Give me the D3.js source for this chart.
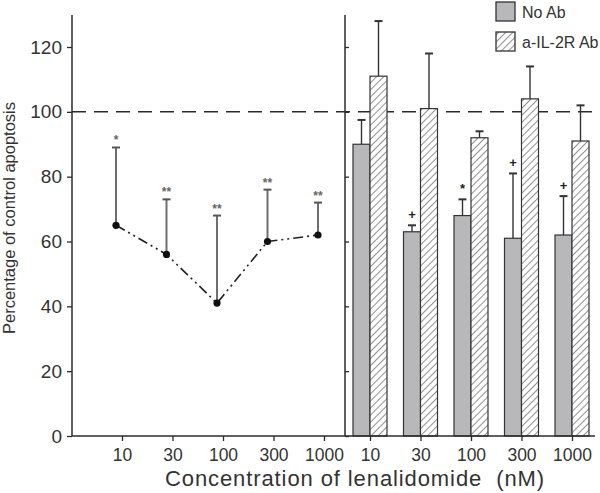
<!DOCTYPE html>
<html><head><meta charset="utf-8">
<script src="https://cdn.jsdelivr.net/npm/d3@7"></script>
<style>body{margin:0;background:#fff}svg{display:block}text{font-family:"Liberation Sans",Arial,sans-serif}</style>
</head><body>
<svg id="c" width="600" height="493"></svg>
<script>
const concentrations = ["10","30","100","300","1000"];
// Left panel: line with upper error bars
const lineMeans = [65, 56, 41, 60, 62];
const lineErrTop = [89, 73, 68, 76, 72];
const lineMarks = ["*", "**", "**", "**", "**"];
// Right panel: bars
const noAbMeans = [90, 63, 68, 61, 62];
const noAbErrTop = [97.5, 65, 73, 81, 74];
const noAbMarks = ["", "+", "*", "+", "+"];
const ab2Means = [111, 101, 92, 104, 91];
const ab2ErrTop = [128, 118, 94, 114, 102];
const yTicks = [0, 20, 40, 60, 80, 100, 120];
const seriesNames = ["No Ab", "a-IL-2R Ab"];

const svg = d3.select("#c");
const ink = "#2b2b2b";
const y = d3.scaleLinear().domain([0, 120]).range([436, 47]);
const xL = d3.scalePoint().domain(concentrations).range([122, 324]);
const xR = d3.scalePoint().domain(concentrations).range([370, 572]);
const barW = 17, ptOff = -6;

const defs = svg.append("defs");
const pat = defs.append("pattern").attr("id", "hatch").attr("patternUnits", "userSpaceOnUse")
  .attr("width", 5).attr("height", 5).attr("patternTransform", "rotate(45)");
pat.append("rect").attr("width", 5).attr("height", 5).attr("fill", "#fff");
pat.append("line").attr("x1", 0).attr("y1", 0).attr("x2", 0).attr("y2", 5).attr("stroke", "#333").attr("stroke-width", 1.1);

// dashed reference line at 100
svg.append("line").attr("x1", 72).attr("x2", 600).attr("y1", y(100)).attr("y2", y(100))
  .attr("stroke", ink).attr("stroke-width", 1.5).attr("stroke-dasharray", "14,8");

// bars
const gb = svg.append("g");
concentrations.forEach((c, i) => {
  const cx = xR(c);
  [[cx - barW / 2, noAbMeans[i], noAbErrTop[i]], [cx + barW / 2, ab2Means[i], ab2ErrTop[i]]].forEach(([ex, m, t]) => {
    gb.append("line").attr("x1", ex).attr("x2", ex).attr("y1", y(m)).attr("y2", y(t)).attr("stroke", "#333").attr("stroke-width", 1.4);
    gb.append("line").attr("x1", ex - 4).attr("x2", ex + 4).attr("y1", y(t)).attr("y2", y(t)).attr("stroke", "#333").attr("stroke-width", 2);
  });
  gb.append("rect").attr("x", cx - barW).attr("y", y(noAbMeans[i])).attr("width", barW).attr("height", y(0) - y(noAbMeans[i]))
    .attr("fill", "#b8b8ba").attr("stroke", "#333").attr("stroke-width", 1.2);
  gb.append("rect").attr("x", cx).attr("y", y(ab2Means[i])).attr("width", barW).attr("height", y(0) - y(ab2Means[i]))
    .attr("fill", "url(#hatch)").attr("stroke", "#333").attr("stroke-width", 1.2);
  if (noAbMarks[i]) {
    gb.append("text").attr("x", cx - barW / 2).attr("y", y(noAbErrTop[i]) - 6).attr("text-anchor", "middle")
      .attr("font-size", 13).attr("font-weight", "bold").attr("fill", "#222").text(noAbMarks[i]);
  }
});

// left panel error bars + line
const gl = svg.append("g");
concentrations.forEach((c, i) => {
  const px = xL(c) + ptOff;
  gl.append("line").attr("x1", px).attr("x2", px).attr("y1", y(lineMeans[i])).attr("y2", y(lineErrTop[i])).attr("stroke", "#6e6e6e").attr("stroke-width", 2);
  gl.append("line").attr("x1", px - 4).attr("x2", px + 4).attr("y1", y(lineErrTop[i])).attr("y2", y(lineErrTop[i])).attr("stroke", "#555").attr("stroke-width", 2);
  gl.append("text").attr("x", px).attr("y", y(lineErrTop[i]) - 3).attr("text-anchor", "middle")
    .attr("font-size", 12).attr("font-weight", "bold").attr("fill", "#666").text(lineMarks[i]);
});
const line = d3.line().x((d, i) => xL(concentrations[i]) + ptOff).y(d => y(d));
gl.append("path").datum(lineMeans).attr("d", line).attr("fill", "none").attr("stroke", "#222")
  .attr("stroke-width", 1.6).attr("stroke-dasharray", "10,4,2,4,2,4");
gl.selectAll("circle").data(lineMeans).join("circle")
  .attr("cx", (d, i) => xL(concentrations[i]) + ptOff).attr("cy", d => y(d)).attr("r", 3.6).attr("fill", "#111");

// axes
const axL = svg.append("g").attr("transform", "translate(72,0)")
  .call(d3.axisLeft(y).tickValues(yTicks).tickSize(5).tickPadding(5));
axL.select(".domain").remove();
axL.selectAll("line").attr("stroke", ink).attr("stroke-width", 1.3);
axL.selectAll("text").attr("font-size", 19).attr("fill", "#333").attr("font-family", "Liberation Sans, Arial, sans-serif");
svg.append("line").attr("x1", 72).attr("x2", 72).attr("y1", 15).attr("y2", y(0)).attr("stroke", ink).attr("stroke-width", 1.5);

const axD = svg.append("g").attr("transform", "translate(345,0)")
  .call(d3.axisRight(y).tickValues(yTicks).tickSize(4).tickFormat(""));
axD.select(".domain").remove();
axD.selectAll("line").attr("stroke", ink).attr("stroke-width", 1.3);
svg.append("line").attr("x1", 345).attr("x2", 345).attr("y1", 15).attr("y2", y(0)).attr("stroke", ink).attr("stroke-width", 1.5);

[xL, xR].forEach(sc => {
  const a = svg.append("g").attr("transform", `translate(0,${y(0)})`)
    .call(d3.axisBottom(sc).tickSize(5).tickPadding(8));
  a.select(".domain").remove();
  a.selectAll("line").attr("stroke", ink).attr("stroke-width", 1.3);
  a.selectAll("text").attr("font-size", 17.5).attr("fill", "#333").attr("font-family", "Liberation Sans, Arial, sans-serif");
});
svg.append("line").attr("x1", 72).attr("x2", 595).attr("y1", y(0)).attr("y2", y(0)).attr("stroke", ink).attr("stroke-width", 1.5);

// titles
svg.append("text").attr("x", 355).attr("y", 486).attr("text-anchor", "middle").attr("font-size", 22).attr("letter-spacing", 0.9).attr("fill", "#333")
  .attr("xml:space", "preserve").text("Concentration of lenalidomide  (nM)");
svg.append("text").attr("transform", "translate(15,218) rotate(-90)").attr("text-anchor", "middle").attr("font-size", 16.5).attr("fill", "#333")
  .text("Percentage of control apoptosis");

// legend
const lg = svg.append("g");
lg.append("rect").attr("x", 496).attr("y", 2).attr("width", 19).attr("height", 19).attr("fill", "#b8b8ba").attr("stroke", "#333").attr("stroke-width", 1.3);
lg.append("rect").attr("x", 496).attr("y", 32).attr("width", 19).attr("height", 19).attr("fill", "url(#hatch)").attr("stroke", "#333").attr("stroke-width", 1.3);
lg.append("text").attr("x", 522).attr("y", 18).attr("font-size", 16).attr("fill", "#333").text(seriesNames[0]);
lg.append("text").attr("x", 522).attr("y", 48).attr("font-size", 16).attr("fill", "#333").text(seriesNames[1]);
</script>
</body></html>
